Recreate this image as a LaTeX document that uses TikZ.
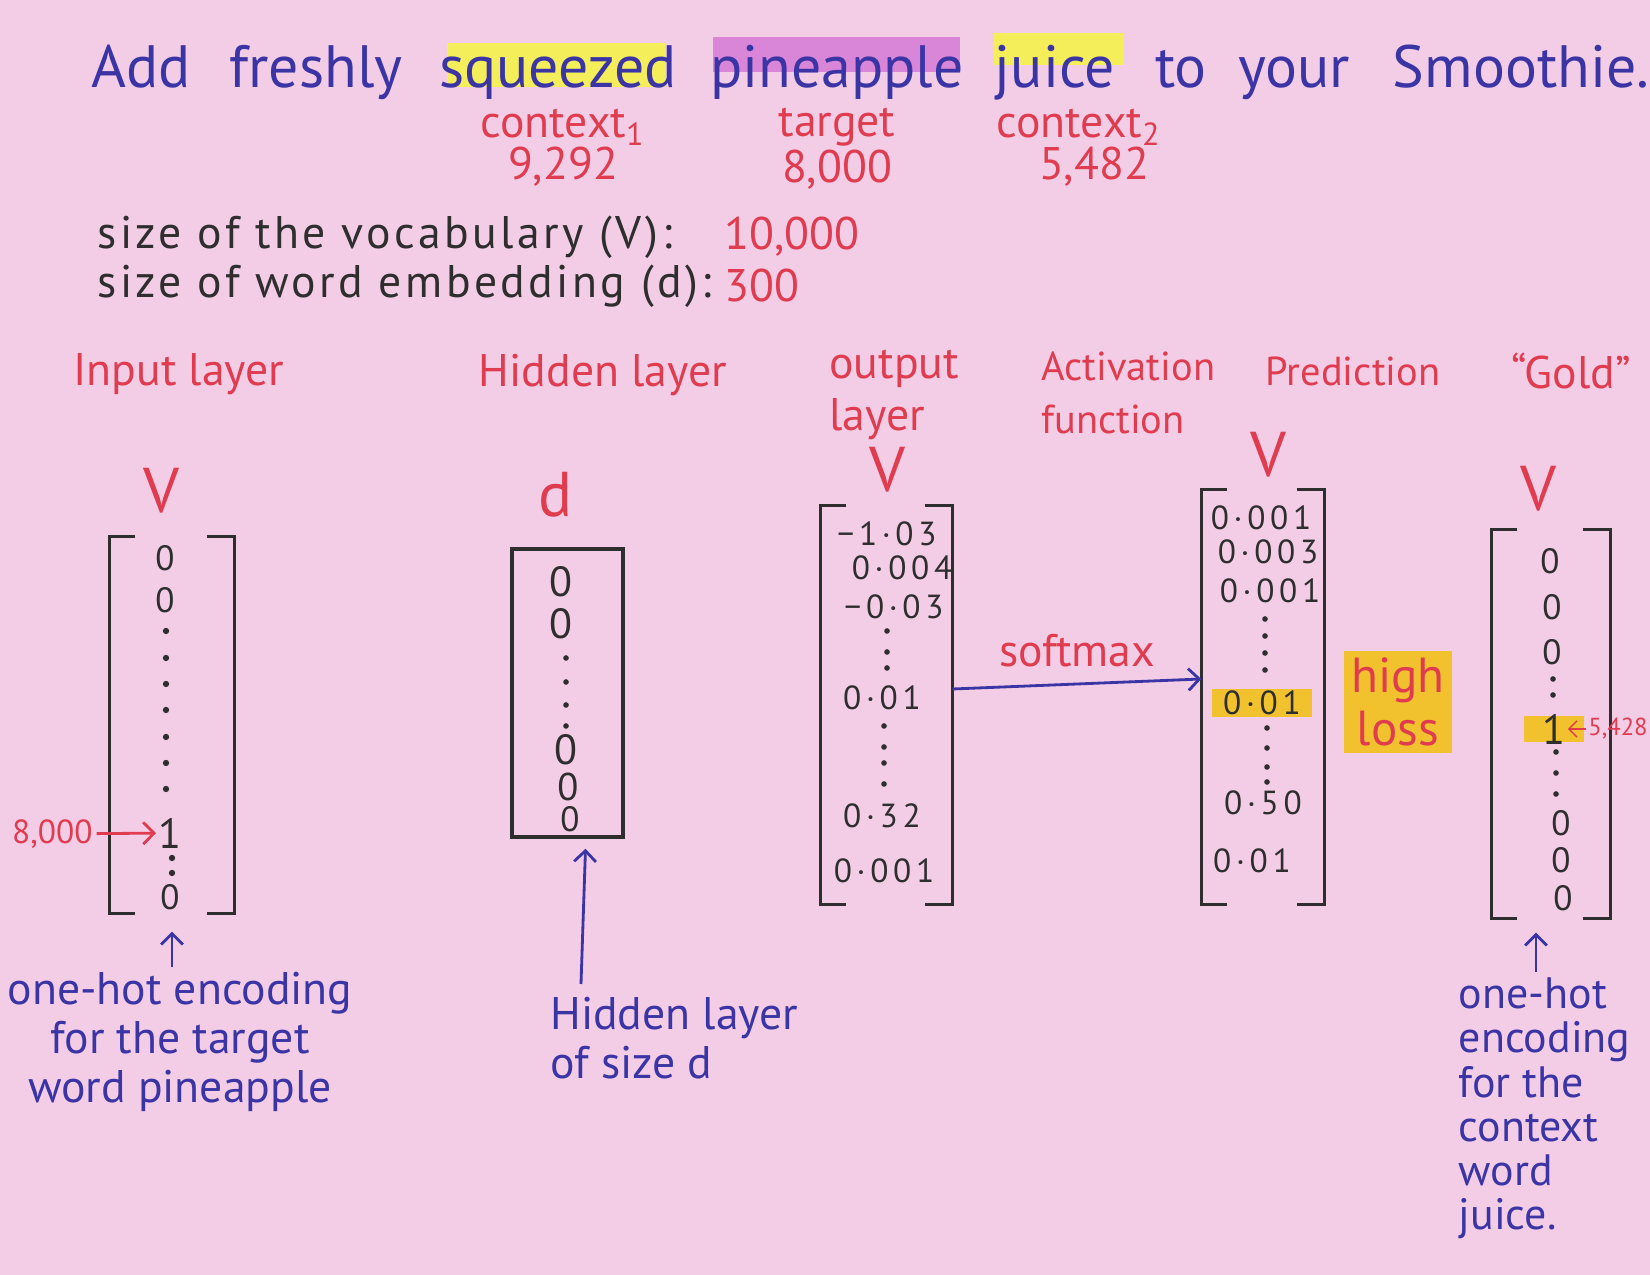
\documentclass[tikz,border=0pt]{standalone}
\usepackage{fontspec}
\setmainfont{PT Sans}
\newfontfamily\handwide{PT Sans}[LetterSpace=7.5]
\newfontfamily\handnum{PT Sans}[LetterSpace=14]
\usepackage{tikz}
\usetikzlibrary{positioning,arrows.meta,calc}
\definecolor{paper1}{HTML}{F3CDE6}
\definecolor{ink1}{HTML}{3A34A5}
\definecolor{red1}{HTML}{E03C50}
\definecolor{dark1}{HTML}{2E2E2E}
\definecolor{yellow1}{HTML}{F4EE5A}
\definecolor{magenta1}{HTML}{D985D8}
\definecolor{orange1}{HTML}{F2C12E}

% square brackets round a vector node
\newcommand{\vbrackets}[1]{%
  \draw[brk] ([xshift=0.26cm]#1.north west) -| (#1.south west) -- ++(0.26,0);
  \draw[brk] ([xshift=-0.28cm]#1.north east) -| (#1.south east) -- ++(-0.28,0);}

\begin{document}
\begin{tikzpicture}[
    >=Straight Barb,
    title/.style={font=\fontsize{17}{20}\selectfont, text=ink1,
                  anchor=base, inner sep=1.5pt},
    redlbl/.style={font=\fontsize{13}{15}\selectfont, text=red1},
    darklbl/.style={font=\handwide\fontsize{13}{15}\selectfont, text=dark1},
    bluelbl/.style={font=\fontsize{13}{14}\selectfont, text=ink1},
    dimv/.style={font=\fontsize{18}{20}\selectfont, text=red1},
    entry/.style={font=\handnum\fontsize{9.5}{12}\selectfont, text=dark1, inner sep=1pt},
    zero/.style={font=\fontsize{10}{12}\selectfont, text=dark1, inner sep=0.5pt},
    vec/.style={inner sep=0pt},
    brk/.style={draw=dark1, line width=1pt},
    dotv/.style={fill=dark1},
]
% Paper
\path[use as bounding box, fill=paper1] (0,0) rectangle (16.5,12.75);

% Sentence (marker strokes first)
\fill[yellow1] (4.47,11.88) rectangle (6.65,12.32);
\fill[magenta1] (7.13,12.03) rectangle (9.60,12.38);
\fill[yellow1] (9.94,12.10) rectangle (11.24,12.42);
\node[title] (wadd) at (1.41,11.87) {Add};
\node[title] (wfresh) at (3.16,11.87) {freshly};
\node[title] (wsqz) at (5.58,11.87) {squeezed};
\node[title] (wpine) at (8.37,11.87) {pineapple};
\node[title] (wjuice) at (10.55,11.87) {juice};
\node[title] (wto) at (11.81,11.87) {to};
\node[title] (wyour) at (12.94,11.87) {your};
\node[title] (wsmooth) at (15.21,11.87) {Smoothie.};

% Word indices
\node[redlbl] (ctx1) at (5.63,11.48) {context\textsubscript{1}};
\node[redlbl] (ctx1n) at (5.63,11.08) {9,292};
\node[redlbl] (tgt) at (8.37,11.48) {target};
\node[redlbl] (tgtn) at (8.37,11.05) {8,000};
\node[redlbl] (ctx2) at (10.79,11.48) {context\textsubscript{2}};
\node[redlbl] (ctx2n) at (10.94,11.08) {5,482};

% Sizes
\node[darklbl, anchor=west] (sizeV) at (0.85,10.38) {size of the vocabulary (V):};
\node[redlbl, anchor=west] (sizeVval) at (7.12,10.38) {10,000};
\node[darklbl, anchor=west] (sizeD) at (0.85,9.89) {size of word embedding (d):};
\node[redlbl, anchor=west] (sizeDval) at (7.12,9.89) {300};

% Layer headings
\node[redlbl] (hin) at (1.79,9.01) {Input layer};
\node[redlbl] (hhid) at (6.03,9.00) {Hidden layer};
\node[redlbl, anchor=west, align=left] (hout) at (8.17,8.80) {output\\layer};
\node[redlbl, anchor=west, align=left, font=\fontsize{11.5}{15}\selectfont] (hact) at (10.29,8.82) {Activation\\function};
\node[redlbl, font=\fontsize{11.5}{14}\selectfont] (hpred) at (13.53,9.04) {Prediction};
\node[redlbl] (hgold) at (15.71,9.04) {“Gold”};

% Dimensions
\node[dimv] (vin) at (1.61,7.84) {V};
\node[dimv] (dhid) at (5.56,7.80) {d};
\node[dimv] (vout) at (8.87,8.05) {V};
\node[dimv] (vpred) at (12.68,8.20) {V};
\node[dimv] (vgold) at (15.38,7.86) {V};

% Input layer vector
\node[vec, minimum width=1.24cm, minimum height=3.76cm] (invec) at (1.72,5.50) {};
\vbrackets{invec}
\node[zero] (in1) at (1.65,7.17) {0};
\node[zero] (in2) at (1.65,6.75) {0};
\foreach \y in {6.44,6.17,5.91,5.65,5.38,5.12,4.86}
  \fill[dotv] (1.66,\y) circle (0.9pt);
\node[zero, font=\fontsize{12}{14}\selectfont] (inone) at (1.70,4.42) {1};
\foreach \y in {4.17,4.02}
  \fill[dotv] (1.72,\y) circle (0.9pt);
\node[zero] (inlast) at (1.70,3.78) {0};
\node[redlbl, font=\fontsize{9.5}{12}\selectfont, anchor=west, inner sep=1pt] (idx8k) at (0.08,4.41) {8,000};
\draw[->, red1, thick] (idx8k) -- (inone);

% Hidden layer vector
\node[vec, draw=dark1, line width=1pt, minimum width=1.11cm, minimum height=2.88cm] (hidvec) at (5.675,5.82) {};
\node[zero, font=\fontsize{12}{14}\selectfont] (hid1) at (5.61,6.93) {0};
\node[zero, font=\fontsize{12}{14}\selectfont] (hid2) at (5.61,6.51) {0};
\foreach \y in {6.17,5.93,5.70,5.49}
  \fill[dotv] (5.66,\y) circle (0.8pt);
\node[zero, font=\fontsize{12}{14}\selectfont] (hid3) at (5.66,5.25) {0};
\node[zero, font=\fontsize{11}{13}\selectfont] (hid4) at (5.68,4.88) {0};
\node[zero] (hid5) at (5.70,4.56) {0};

% Output layer vector
\node[vec, minimum width=1.31cm, minimum height=3.98cm] (outvec) at (8.865,5.70) {};
\vbrackets{outvec}
\node[entry] (out1) at (8.87,7.41) {−1·03};
\node[entry] (out2) at (9.02,7.07) {0·004};
\node[entry] (out3) at (8.94,6.68) {−0·03};
\foreach \y in {6.44,6.23,6.07}
  \fill[dotv] (8.87,\y) circle (0.8pt);
\node[entry] (out4) at (8.82,5.77) {0·01};
\foreach \y in {5.49,5.28,5.12,4.91}
  \fill[dotv] (8.84,\y) circle (0.8pt);
\node[entry] (out5) at (8.82,4.59) {0·32};
\node[entry] (out6) at (8.84,4.04) {0·001};

% Prediction vector
\node[vec, minimum width=1.22cm, minimum height=4.14cm] (predvec) at (12.63,5.78) {};
\vbrackets{predvec}
\node[entry] (pred1) at (12.61,7.57) {0·001};
\node[entry] (pred2) at (12.68,7.23) {0·003};
\node[entry] (pred3) at (12.70,6.84) {0·001};
\foreach \y in {6.56,6.39,6.22,6.05}
  \fill[dotv] (12.65,\y) circle (0.8pt);
\node[entry, fill=orange1, minimum width=1.0cm, minimum height=0.28cm, inner ysep=0pt] (pred4) at (12.62,5.72) {0·01};
\foreach \y in {5.47,5.27,5.08,4.93}
  \fill[dotv] (12.67,\y) circle (0.8pt);
\node[entry] (pred5) at (12.63,4.72) {0·50};
\node[entry] (pred6) at (12.52,4.14) {0·01};

% Loss
\node[redlbl, fill=orange1, align=center, inner sep=2pt,
      minimum width=1.0cm, font=\fontsize{14}{15}\selectfont] (loss) at (13.98,5.73) {high\\loss};

% Softmax
\draw[->, ink1, thick] ([yshift=0.16cm]outvec.east) -- ([yshift=0.18cm]predvec.west)
    node[midway, above=1pt, redlbl] (smax) {softmax};

% Gold vector
\node[vec, minimum width=1.18cm, minimum height=3.88cm] (goldvec) at (15.51,5.51) {};
\vbrackets{goldvec}
\node[zero] (gold1) at (15.50,7.14) {0};
\node[zero] (gold2) at (15.52,6.68) {0};
\node[zero] (gold3) at (15.52,6.23) {0};
\foreach \y in {5.96,5.80}
  \fill[dotv] (15.53,\y) circle (0.8pt);
\fill[orange1] (15.24,5.33) rectangle (15.84,5.59);
\node[zero, font=\fontsize{12}{14}\selectfont] (goldone) at (15.54,5.46) {1};
\foreach \y in {5.23,5.02,4.81}
  \fill[dotv] (15.56,\y) circle (0.8pt);
\node[zero] (gold4) at (15.61,4.52) {0};
\node[zero] (gold5) at (15.61,4.15) {0};
\node[zero] (gold6) at (15.63,3.77) {0};
\node[redlbl, font=\fontsize{7}{9}\selectfont, inner sep=0.5pt, anchor=west] (idx5k) at (15.86,5.46) {5,428};
\draw[->, red1] (idx5k) -- (goldone);

% Captions
\node[bluelbl, align=center, inner sep=0pt] (inlbl) at (1.80,2.33) {one-hot encoding\\for the target\\word pineapple};
\draw[->, ink1, thick] ($(inlbl.north -| invec.south)+(0,0.04)$) -- ([yshift=-0.18cm]invec.south);
\node[bluelbl, align=left, anchor=west] (hidlbl) at (5.38,2.37) {Hidden layer\\of size d};
\coordinate (hidtail) at (5.81,2.91);
\draw[->, ink1, thick] (hidtail) -- ([xshift=0.18cm, yshift=-0.1cm]hidvec.south);
\node[bluelbl, align=left, anchor=north west, inner sep=0pt,
      font=\fontsize{12.5}{12.6}\selectfont] (goldlbl) at (14.58,2.98)
    {one-hot\\encoding\\for the\\context\\word\\juice.};
\draw[->, ink1, thick] ($(goldlbl.north -| goldvec.south)+(-0.15,0.05)$) -- ([xshift=-0.15cm, yshift=-0.14cm]goldvec.south);
\end{tikzpicture}
\end{document}
